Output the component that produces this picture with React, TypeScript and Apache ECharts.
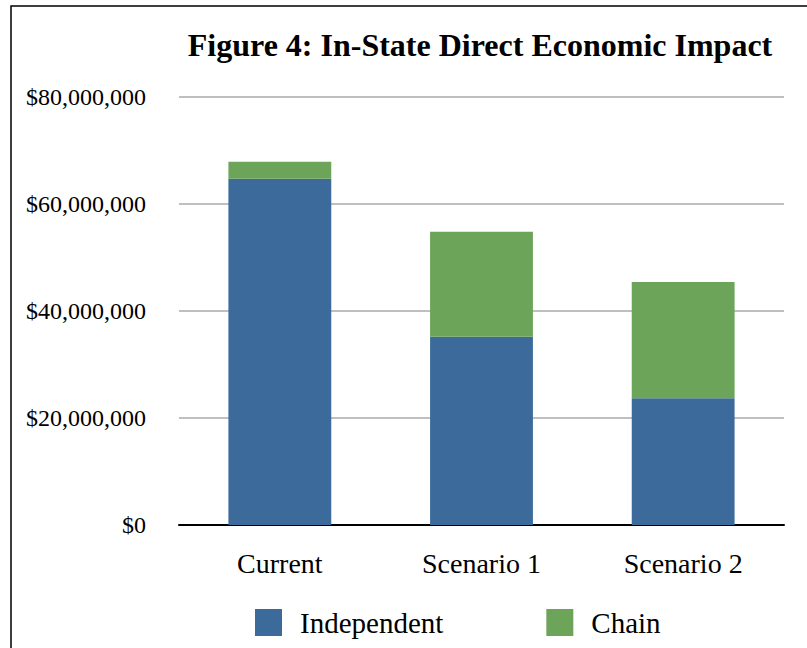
import React, { useEffect, useRef } from "react";
import * as echarts from "echarts";

const categories = ["Current", "Scenario 1", "Scenario 2"];
const independent = [64700000, 35200000, 23700000];
const chain = [3200000, 19600000, 21700000];
const seriesNames = ["Independent", "Chain"];
const yTicks = { min: 0, max: 80000000, interval: 20000000 };

const FONT = "'Liberation Serif', 'Times New Roman', serif";

export default function App() {
  const ref = useRef<HTMLDivElement>(null);
  useEffect(() => {
    if (!ref.current) return;
    const chart = echarts.init(ref.current, undefined, { renderer: "svg" });
    chart.setOption({
      animation: false,
      backgroundColor: "#ffffff",
      title: {
        text: "Figure 4: In-State Direct Economic Impact",
        left: 475,
        textAlign: "center",
        top: 24,
        textStyle: { fontFamily: FONT, fontSize: 32, fontWeight: "bold", color: "#000" },
      },
      graphic: [
        {
          type: "rect",
          shape: { x: 11, y: 6, width: 900, height: 800 },
          style: { fill: "none", stroke: "#000", lineWidth: 1.5 },
          silent: true,
        },
      ],
      legend: {
        left: 250,
        top: 603,
        itemWidth: 27,
        itemHeight: 27,
        itemGap: 103,
        icon: "rect",
        textStyle: { fontFamily: FONT, fontSize: 29, color: "#000", padding: [0, 0, 0, 13] },
        data: seriesNames,
      },
      grid: { left: 179, right: 23, top: 97, bottom: 123, containLabel: false },
      xAxis: {
        type: "category",
        data: categories,
        axisLine: { show: true, lineStyle: { color: "#000", width: 2 } },
        axisTick: { show: false },
        axisLabel: { fontFamily: FONT, fontSize: 28, color: "#000", margin: 24 },
      },
      yAxis: {
        type: "value",
        min: yTicks.min,
        max: yTicks.max,
        interval: yTicks.interval,
        axisLine: { show: false },
        axisTick: { show: false },
        splitLine: { lineStyle: { color: "#bfbfbf", width: 2 } },
        axisLabel: {
          fontFamily: FONT,
          fontSize: 24,
          color: "#000",
          margin: 33,
          formatter: (v: number) => "$" + v.toLocaleString("en-US"),
        },
      },
      series: [
        {
          name: seriesNames[0],
          type: "bar",
          stack: "total",
          data: independent,
          barWidth: "51%",
          itemStyle: { color: "#3c6b9b" },
        },
        {
          name: seriesNames[1],
          type: "bar",
          stack: "total",
          data: chain,
          barWidth: "51%",
          itemStyle: { color: "#6ca45a" },
        },
      ],
    });
    return () => chart.dispose();
  }, []);
  return (
    <div
      ref={ref}
      style={{ position: "fixed", left: 0, top: 0, width: 807, height: 648 }}
    />
  );
}
